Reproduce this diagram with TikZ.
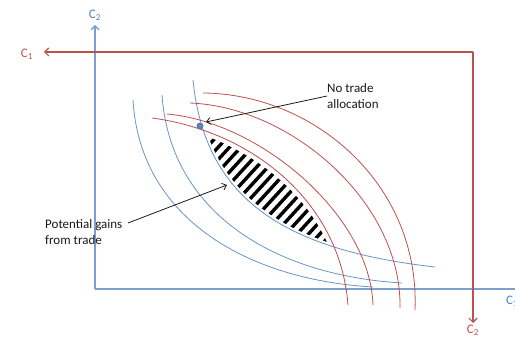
\documentclass[tikz,border=0pt]{standalone}
\usepackage{fontspec}
\setmainfont{Carlito}
\usetikzlibrary{arrows.meta}
\definecolor{cblue}{HTML}{4F81BD}
\definecolor{cred}{HTML}{C0504D}
\definecolor{ctext}{HTML}{1A1A1A}
\begin{document}
\begin{tikzpicture}[x=1pt,y=-1pt,
  bcurve/.style={cblue!85, line width=0.8pt},
  rcurve/.style={cred, line width=0.8pt},
  baxis/.style={cblue!75, line width=1.4pt},
  raxis/.style={cred, line width=1.2pt},
  tipb/.style={-{Straight Barb[length=4pt,width=8pt]}},
  lab/.style={font=\fontsize{13}{16}\selectfont, text=ctext, inner sep=0pt, align=left},
  ann/.style={ctext, line width=0.8pt, -{Straight Barb[length=4pt,width=7pt]}},
  hatchline/.style={black, line width=3.4pt}]
\useasboundingbox (0,0) rectangle (515,337);
\def\Bone{(133,100) .. controls (140,220) and (250,280) .. (373,287)}
\def\Btwo{(162,95) .. controls (170,210) and (270,275) .. (402,283)}
\def\Bthree{(193,80) .. controls (205,200) and (285,250) .. (435,267)}
\def\Rone{(152,118) .. controls (250,131) and (340,200) .. (348,305)}
\def\Rtwo{(167,114) .. controls (260,122) and (370,215) .. (373,305)}
\def\Rthree{(190,103) .. controls (292,107) and (402,203) .. (400,308)}
\def\Rfour{(203,93) .. controls (315,94) and (420,185) .. (415,310)}
% hatched lens
\begin{scope}
  \clip \Bthree -- (515,267) -- (515,0) -- (193,0) -- cycle;
  \clip \Rone -- (0,305) -- (0,118) -- cycle;
  \foreach \i in {0,...,24}
    \draw[hatchline] (196+6.1*\i-22, 122+5.7*\i+24) -- ++(44,-48);
  \draw[white, line width=9pt] \Rone;
  \draw[white, line width=5pt] \Bthree;
\end{scope}
% axes
\coordinate (O2) at (95,289);
\coordinate (btop) at (95,25);
\coordinate (bright) at (516,289);
\coordinate (O1) at (473,52);
\coordinate (rleft) at (44,52);
\coordinate (rbottom) at (473,323);
\draw[baxis,tipb] (O2) -- (btop);
\draw[baxis] (O2) -- (bright);
\draw[raxis,tipb] (O1) -- (rleft);
\draw[raxis,tipb] (O1) -- (rbottom);
\node[lab, text=cblue] (c2b) at (95,15) {C\textsubscript{2}};
\node[lab, text=cblue, anchor=west] (c1b) at (506,301) {C\textsubscript{1}};
\node[lab, text=cred] (c1r) at (27,54) {C\textsubscript{1}};
\node[lab, text=cred] (c2r) at (473,330) {C\textsubscript{2}};
% indifference curves
\draw[bcurve] \Bone;
\draw[bcurve] \Btwo;
\draw[bcurve] \Bthree;
\draw[rcurve] \Rone;
\draw[rcurve] \Rtwo;
\draw[rcurve] \Rthree;
\draw[rcurve] \Rfour;
% no trade point
\node[circle, fill=cblue, inner sep=0pt, minimum size=7pt] (dot) at (200,126) {};
\node[circle, fill=cred!80, inner sep=0pt, minimum size=2.5pt] (dotc) at (dot) {};
% labels and arrows
\node[lab, anchor=west] (nt) at (327,96) {No trade\\allocation};
\coordinate (ntip) at (206,122);
\draw[ann] (nt.west) -- (ntip);
\node[lab, anchor=west] (pg) at (45,232) {Potential gains\\from trade};
\coordinate (pgs) at (128,223);
\coordinate (pgtip) at (227,185);
\draw[ann] (pgs) -- (pgtip);
\end{tikzpicture}
\end{document}
